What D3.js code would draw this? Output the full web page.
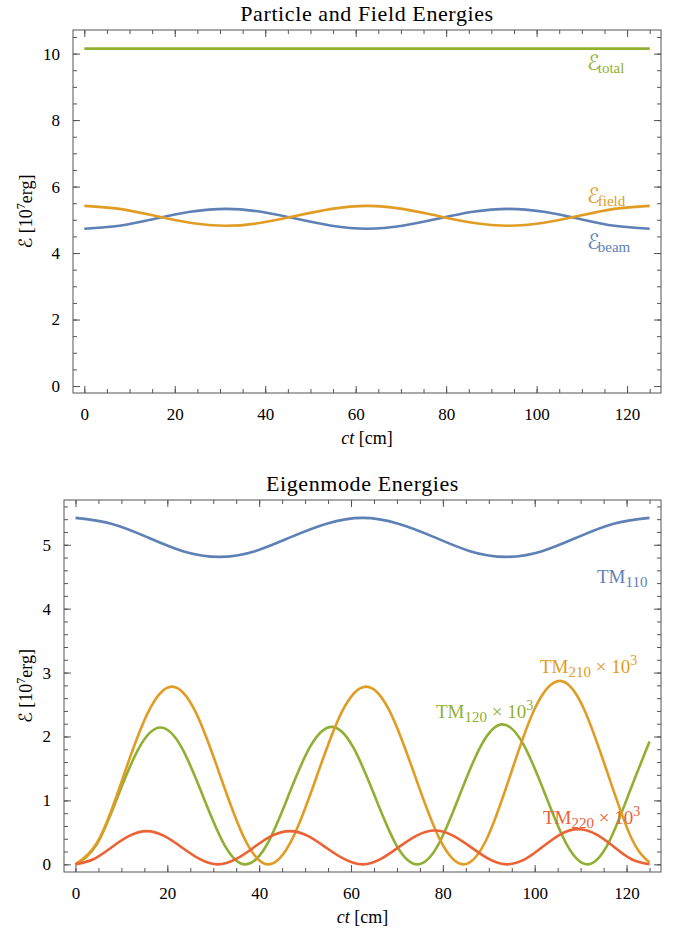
<!DOCTYPE html>
<meta charset="utf-8">
<style>
	body { margin: 0; background: #fff; }
	svg text { font-family: "Liberation Serif", "DejaVu Serif", serif; fill: #000; }
	.frame { fill: none; stroke: #555; stroke-width: 1px; }
	.tick line { stroke: #555; }
	.series { fill: none; stroke-width: 2.6px; }
	.script { font-family: "DejaVu Serif", "DejaVu Sans", serif; font-style: italic; }
</style>
<body>
<div id="chart"></div>
<script src="https://d3js.org/d3.v7.min.js"></script>
<script>
	// colours (Mathematica 97 style)
	var blue = "#5E81B5", orange = "#E19C24", green = "#8FB032", red = "#EB6235";

	// x ticks, shared by both panels
	var ctTicks = [0, 20, 40, 60, 80, 100, 120];
	var ctMinor = d3.range(0, 126, 5);

	// ---- top panel: particle and field energies [ct, E] ----
	var totalE = [[0, 10.15], [31.3, 10.15], [62.5, 10.15], [93.8, 10.15], [125, 10.15]];
	var fieldE = [[0, 5.42], [7.8, 5.33], [15.6, 5.12], [23.4, 4.91], [31.3, 4.82], [39.1, 4.91], [46.9, 5.12], [54.7, 5.33],
		[62.5, 5.42], [70.3, 5.33], [78.1, 5.12], [85.9, 4.91], [93.8, 4.82], [101.6, 4.91], [109.4, 5.12], [117.2, 5.33], [125, 5.42]];
	var beamE = [[0, 4.73], [7.8, 4.82], [15.6, 5.03], [23.4, 5.24], [31.3, 5.33], [39.1, 5.24], [46.9, 5.03], [54.7, 4.82],
		[62.5, 4.73], [70.3, 4.82], [78.1, 5.03], [85.9, 5.24], [93.8, 5.33], [101.6, 5.24], [109.4, 5.03], [117.2, 4.82], [125, 4.73]];
	var topTicks = [0, 2, 4, 6, 8, 10];
	var topMinor = d3.range(0, 10.6, 0.5);

	// ---- bottom panel: eigenmode energies [ct, E] ----
	var tm110 = [[0, 5.42], [7.8, 5.33], [15.6, 5.12], [23.4, 4.90], [31.3, 4.81], [39.1, 4.90], [46.9, 5.12], [54.7, 5.33],
		[62.5, 5.42], [70.3, 5.33], [78.1, 5.12], [85.9, 4.90], [93.8, 4.81], [101.6, 4.90], [109.4, 5.12], [117.2, 5.33], [125, 5.42]];
	var tm210 = [[0, 0], [5.25, 0.41], [10.5, 1.39], [15.75, 2.37], [21, 2.78], [26.25, 2.37], [31.5, 1.39], [36.75, 0.41], [42, 0],
		[47.3, 0.41], [52.6, 1.39], [57.9, 2.37], [63.3, 2.78], [68.6, 2.37], [73.9, 1.39], [79.2, 0.41], [84.5, 0],
		[89.7, 0.42], [94.9, 1.44], [100.1, 2.45], [105.5, 2.87], [110.6, 2.45], [115.8, 1.44], [121, 0.42], [125, 0.03]];
	var tm120 = [[0, 0], [4.6, 0.31], [9.25, 1.07], [13.9, 1.83], [18.5, 2.14], [23.1, 1.83], [27.75, 1.07], [32.4, 0.31], [37, 0],
		[41.7, 0.31], [46.4, 1.08], [51.1, 1.84], [55.8, 2.15], [60.4, 1.84], [65.1, 1.08], [69.8, 0.31], [74.5, 0],
		[79.1, 0.32], [83.75, 1.10], [88.4, 1.87], [93, 2.19], [97.6, 1.87], [102.25, 1.10], [106.9, 0.32], [111.5, 0],
		[116.1, 0.34], [120.75, 1.15], [125, 1.92]];
	var tm220 = [[0, 0], [3.9, 0.08], [7.75, 0.26], [11.6, 0.44], [15.5, 0.52], [19.4, 0.44], [23.25, 0.26], [27.1, 0.08], [31, 0],
		[34.9, 0.08], [38.75, 0.26], [42.6, 0.44], [46.75, 0.52], [50.7, 0.44], [54.6, 0.26], [58.6, 0.08], [62.5, 0],
		[66.4, 0.08], [70.4, 0.27], [74.3, 0.45], [78.25, 0.53], [82.2, 0.45], [86.1, 0.27], [90.1, 0.08], [94, 0],
		[97.9, 0.08], [101.75, 0.275], [105.6, 0.47], [109.5, 0.55], [113.4, 0.47], [117.25, 0.275], [121.1, 0.08], [125, 0]];
	var botTicks = [0, 1, 2, 3, 4, 5];
	var botMinor = d3.range(0, 5.61, 0.2);

	var svg = d3.select("#chart").append("svg")
			.attr("width", 680)
			.attr("height", 929);

	function drawPanel(cfg) {
		var x = d3.scaleLinear().domain([-2.5, 127.5]).range([cfg.left, cfg.right]);
		var y = d3.scaleLinear().domain(cfg.ydomain).range([cfg.bottom, cfg.top]);
		var w = cfg.right - cfg.left, h = cfg.bottom - cfg.top;
		var g = svg.append("g");

		// ticks on all four sides, pointing inward
		function addAxis(axis, tr) {
			var a = g.append("g").attr("transform", tr).call(axis);
			a.select(".domain").remove();
			a.attr("font-family", null).attr("font-size", 17);
			return a;
		}
		addAxis(d3.axisBottom(x).tickValues(ctMinor).tickSize(-4).tickFormat(""), "translate(0," + cfg.bottom + ")");
		addAxis(d3.axisTop(x).tickValues(ctMinor).tickSize(-4).tickFormat(""), "translate(0," + cfg.top + ")");
		addAxis(d3.axisLeft(y).tickValues(cfg.yminor).tickSize(-4).tickFormat(""), "translate(" + cfg.left + ",0)");
		addAxis(d3.axisRight(y).tickValues(cfg.yminor).tickSize(-4).tickFormat(""), "translate(" + cfg.right + ",0)");
		addAxis(d3.axisTop(x).tickValues(ctTicks).tickSize(-7).tickFormat(""), "translate(0," + cfg.top + ")");
		addAxis(d3.axisRight(y).tickValues(cfg.yticks).tickSize(-7).tickFormat(""), "translate(" + cfg.right + ",0)");
		addAxis(d3.axisBottom(x).tickValues(ctTicks).tickSize(-7).tickPadding(15).tickFormat(d3.format("d")),
				"translate(0," + cfg.bottom + ")");
		addAxis(d3.axisLeft(y).tickValues(cfg.yticks).tickSize(-7).tickPadding(13).tickFormat(d3.format("d")),
				"translate(" + cfg.left + ",0)");

		g.append("rect").attr("class", "frame")
				.attr("x", cfg.left).attr("y", cfg.top)
				.attr("width", w).attr("height", h);

		var line = d3.line()
				.x(function (d) { return x(d[0]); })
				.y(function (d) { return y(d[1]); })
				.curve(d3.curveNatural);

		cfg.series.forEach(function (s) {
			g.append("path")
					.datum(s.data)
					.attr("class", "series")
					.attr("stroke", s.color)
					.attr("d", line);
		});

		// title
		g.append("text")
				.attr("x", (cfg.left + cfg.right) / 2)
				.attr("y", cfg.top - 9)
				.attr("text-anchor", "middle")
				.attr("font-size", 22)
				.attr("letter-spacing", 0.6)
				.text(cfg.title);

		// x label
		var xl = g.append("text")
				.attr("x", (cfg.left + cfg.right) / 2)
				.attr("y", cfg.bottom + 51)
				.attr("text-anchor", "middle")
				.attr("font-size", 18);
		xl.append("tspan").attr("font-style", "italic").text("ct");
		xl.append("tspan").text(" [cm]");

		// y label
		var ylab = g.append("text")
				.attr("transform", "translate(32," + (cfg.top + cfg.bottom) / 2 + ") rotate(-90)")
				.attr("text-anchor", "middle")
				.attr("font-size", 18);
		ylab.append("tspan").attr("class", "script").text("ℰ");
		ylab.append("tspan").text(" [10");
		ylab.append("tspan").attr("font-size", 12).attr("dy", -7).text("7");
		ylab.append("tspan").attr("dy", 7).text("erg]");

		return {x: x, y: y, g: g};
	}

	var topPanel = drawPanel({
		left: 73, right: 661, top: 30, bottom: 393,
		ydomain: [-0.21, 10.71], yticks: topTicks, yminor: topMinor,
		title: "Particle and Field Energies",
		series: [
			{data: totalE, color: green},
			{data: beamE, color: blue},
			{data: fieldE, color: orange}
		]
	});

	var botPanel = drawPanel({
		left: 64, right: 661, top: 500, bottom: 872,
		ydomain: [-0.12, 5.7], yticks: botTicks, yminor: botMinor,
		title: "Eigenmode Energies",
		series: [
			{data: tm110, color: blue},
			{data: tm120, color: green},
			{data: tm210, color: orange},
			{data: tm220, color: red}
		]
	});

	// energy labels (top panel)
	function energyLabel(px, py, sub, color) {
		var t = topPanel.g.append("text").attr("x", px).attr("y", py).attr("font-size", 21);
		t.append("tspan").attr("class", "script").style("fill", color).text("ℰ");
		t.append("tspan").attr("font-size", 15).attr("dy", 3).attr("dx", -2).style("fill", color).text(sub);
	}
	energyLabel(587, 70, "total", green);
	energyLabel(587, 203, "field", orange);
	energyLabel(587, 249, "beam", blue);

	// mode labels (bottom panel)
	function modeLabel(px, py, sub, scaled, color) {
		var t = botPanel.g.append("text").attr("x", px).attr("y", py).attr("font-size", 19);
		t.append("tspan").style("fill", color).text("TM");
		t.append("tspan").style("fill", color).attr("font-size", 15).attr("dy", 4).text(sub);
		if (scaled) {
			t.append("tspan").style("fill", color).attr("dy", -4).text(" × 10");
			t.append("tspan").style("fill", color).attr("font-size", 14).attr("dy", -8).text("3");
		}
	}
	modeLabel(597, 583, "110", false, blue);
	modeLabel(540, 673, "210", true, orange);
	modeLabel(436, 718, "120", true, green);
	modeLabel(543, 824, "220", true, red);
</script>
</body>
